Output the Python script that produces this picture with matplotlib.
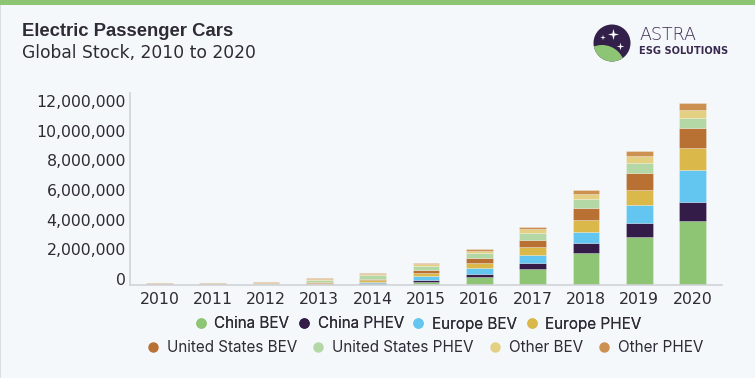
import matplotlib
matplotlib.use("Agg")
import matplotlib.pyplot as plt
from matplotlib.patches import Circle, Rectangle, Polygon
from matplotlib.lines import Line2D
from matplotlib.ticker import FuncFormatter
import numpy as np

years = ["2010", "2011", "2012", "2013", "2014", "2015", "2016", "2017", "2018", "2019", "2020"]
series_names = ["China BEV", "China PHEV", "Europe BEV", "Europe PHEV",
                "United States BEV", "United States PHEV", "Other BEV", "Other PHEV"]
china_bev   = [5000, 10000, 10000, 30000, 60000, 220000, 520000, 1080000, 2160000, 3240000, 4300000]
china_phev  = [0, 2000, 10000, 20000, 60000, 90000, 220000, 400000, 670000, 960000, 1280000]
europe_bev  = [5000, 10000, 10000, 40000, 90000, 270000, 380000, 520000, 760000, 1210000, 2180000]
europe_phev = [0, 5000, 20000, 50000, 110000, 220000, 360000, 540000, 790000, 1010000, 1460000]
us_bev      = [5000, 10000, 30000, 60000, 110000, 220000, 360000, 510000, 810000, 1120000, 1370000]
us_phev     = [10000, 10000, 50000, 120000, 220000, 250000, 300000, 470000, 610000, 670000, 690000]
other_bev   = [10000, 10000, 30000, 60000, 110000, 150000, 160000, 250000, 340000, 490000, 520000]
other_phev  = [90000, 90000, 60000, 70000, 70000, 70000, 140000, 160000, 270000, 320000, 450000]
y_ticks = [0, 2000000, 4000000, 6000000, 8000000, 10000000, 12000000]

series = [china_bev, china_phev, europe_bev, europe_phev, us_bev, us_phev, other_bev, other_phev]
colors = ["#8dc574", "#331c48", "#62c6f0", "#dab94a", "#b87033", "#b3d8a6", "#e4d083", "#cc9150"]

W, H = 755, 378
BG = "#f4f8fb"
TXT = "#2f2b36"
fig = plt.figure(figsize=(W / 100, H / 100), dpi=100, facecolor=BG)

# decoration layer in pixel coords
deco = fig.add_axes([0, 0, 1, 1], zorder=0)
deco.set_xlim(0, W)
deco.set_ylim(H, 0)
deco.axis("off")
deco.add_patch(Rectangle((0, 0), W, 5, color="#8dc574", lw=0))
deco.add_patch(Rectangle((0, 5), 1.2, H - 5, color="#d9dde2", lw=0))

deco.text(22, 31, "Electric Passenger Cars", fontsize=13.3, fontweight="heavy",
          family="Liberation Sans", color=TXT, va="center", ha="left")
deco.text(22, 53, "Global Stock, 2010 to 2020", fontsize=12.3, family="DejaVu Sans",
          color=TXT, va="center", ha="left")

# logo
cx, cy, r = 612, 43, 18.5
logo = Circle((cx, cy), r, color="#33204a", lw=0)
deco.add_patch(logo)
g = Circle((602, 68), 23, color="#8dc574", lw=0)
deco.add_patch(g)
g.set_clip_path(logo)

def star(x, y, s):
    pts = []
    for k in range(8):
        ang = np.pi / 2 + k * np.pi / 4
        rr = s if k % 2 == 0 else s * 0.28
        pts.append((x + rr * np.cos(ang), y - rr * np.sin(ang)))
    deco.add_patch(Polygon(pts, closed=True, color="white", lw=0))

star(613.5, 34.5, 5.5)
star(603, 37.5, 2.8)
star(620.5, 46.5, 3.8)

deco.text(639, 34.5, "ASTRA", fontsize=12.6, family="DejaVu Sans", fontweight="light",
          color="#3a2a50", va="center", ha="left")
deco.text(639, 51, "ESG SOLUTIONS", fontsize=7.1,
          family="DejaVu Sans", fontweight="bold", color="#3a2a50", va="center", ha="left")

# chart
ax = fig.add_axes([130 / W, 1 - 285 / H, (722 - 130) / W, (285 - 93) / H], zorder=1)
ax.set_facecolor("none")
x = np.arange(len(years))
bottom = np.zeros(len(years))
for vals, col, name in zip(series, colors, series_names):
    v = np.array(vals, dtype=float)
    ax.bar(x, v, width=0.5, bottom=bottom, color=col, edgecolor=(1, 1, 1, 0.35),
           linewidth=0.5, label=name)
    bottom += v

ax.set_xlim(-0.55, 10.55)
ax.set_ylim(0, 12950000)
ax.set_xticks(x)
ax.set_xticklabels(years)
ax.set_yticks(y_ticks)
ax.yaxis.set_major_formatter(FuncFormatter(lambda v, p: f"{int(v):,}"))
for s in ["top", "right"]:
    ax.spines[s].set_visible(False)
for s in ["left", "bottom"]:
    ax.spines[s].set_color("#cfd2d6")
    ax.spines[s].set_linewidth(1.2)
ax.tick_params(axis="both", length=0, labelsize=11.3, labelcolor=TXT)
ax.tick_params(axis="x", pad=5)
ax.tick_params(axis="y", pad=3)
for lab in ax.get_yticklabels():
    lab.set_verticalalignment("baseline")
    lab.set_family("DejaVu Sans")
for lab in ax.get_xticklabels():
    lab.set_family("DejaVu Sans")

def handles(idx):
    return [Line2D([0], [0], marker="o", linestyle="none", markersize=6.5,
                   markerfacecolor=colors[i], markeredgecolor=colors[i]) for i in idx]

common = dict(loc="center", ncol=4, frameon=False, handlelength=0.8,
              handletextpad=0.5,
              prop={"family": "Inter", "size": 11}, labelcolor=TXT)
leg1 = fig.legend(handles([0, 1, 2, 3]), series_names[0:4], columnspacing=0.55,
                  bbox_to_anchor=(418 / W, 1 - 324 / H), **common)
leg2 = fig.legend(handles([4, 5, 6, 7]), series_names[4:8], columnspacing=1.0,
                  bbox_to_anchor=(425 / W, 1 - 348 / H), **common)
fig.add_artist(leg1)

fig.savefig("out.png", dpi=100, facecolor=BG)
